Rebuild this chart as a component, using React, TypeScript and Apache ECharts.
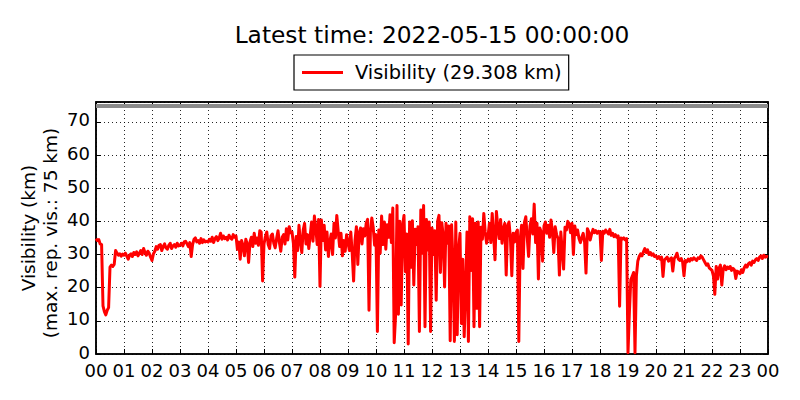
import React, { useEffect, useRef } from "react";
import * as echarts from "echarts";

const titleText = "Latest time: 2022-05-15 00:00:00";
const seriesName = "Visibility";
const latestValue = 29.308;
const maxReportedVis = 75;
const yLabelLine1 = "Visibility (km)";
const yLabelLine2 = "(max. rep. vis.: 75 km)";
const hourLabels = [
  "00", "01", "02", "03", "04", "05", "06", "07", "08", "09", "10", "11",
  "12", "13", "14", "15", "16", "17", "18", "19", "20", "21", "22", "23", "00",
];

// visibility (km), evenly spaced within each hour
const h00 = [34.8, 34.2, 34.5, 33.2, 33.0, 14.5, 12.8, 11.8, 13.2, 14.0, 26.2, 26.8, 26.4, 27.0, 31.2, 30.4, 29.8, 30.2, 29.5, 30.1];
const h01 = [29.8, 30.4, 29.5, 28.6, 29.8, 30.2, 29.4, 30.6, 30.0, 30.8, 29.6, 30.4, 31.2, 30.0, 31.8, 30.6, 29.8, 31.0, 30.4, 29.2];
const h02 = [28.2, 30.2, 31.0, 32.4, 31.6, 32.8, 33.0, 31.2, 32.4, 33.2, 32.0, 31.6, 32.8, 33.4, 31.8, 32.6, 33.0, 32.2, 33.4, 32.6];
const h03 = [32.8, 33.4, 32.6, 33.8, 34.0, 33.2, 32.4, 33.6, 29.4, 33.0, 34.6, 35.0, 33.8, 34.2, 33.4, 34.8, 33.6, 34.4, 33.8, 34.0];
const h04 = [33.8, 34.6, 34.0, 35.2, 33.6, 34.8, 35.4, 34.2, 35.0, 36.4, 34.6, 35.6, 34.8, 35.2, 34.4, 35.8, 35.0, 34.6, 36.0, 35.2];
const h05 = [35.6, 31.6, 33.8, 28.6, 34.2, 32.8, 29.6, 34.6, 33.2, 27.6, 33.8, 35.2, 32.4, 36.4, 33.4, 35.0, 32.8, 37.2, 36.8, 22.0];
const h06 = [33.2, 35.4, 36.8, 33.0, 31.8, 35.6, 36.2, 33.4, 32.0, 34.8, 37.2, 33.6, 31.0, 35.2, 36.0, 33.2, 37.8, 34.4, 38.4, 36.6];
const h07 = [36.8, 33.4, 23.2, 35.4, 31.2, 38.8, 34.0, 30.6, 37.4, 39.4, 33.2, 36.0, 31.8, 35.8, 39.8, 34.0, 41.6, 38.0, 33.0, 40.6];
const h08 = [20.4, 40.4, 34.2, 38.8, 31.4, 36.8, 29.4, 33.8, 36.2, 30.0, 39.4, 35.0, 41.8, 37.0, 32.4, 36.4, 29.6, 34.2, 31.0, 36.0];
const h09 = [33.6, 31.2, 36.8, 30.4, 22.0, 34.2, 38.4, 27.0, 36.6, 38.0, 33.2, 37.8, 35.6, 39.4, 40.6, 13.2, 36.8, 41.0, 38.2, 32.8];
const h10 = [36.0, 6.8, 37.4, 30.4, 41.6, 33.0, 39.8, 31.6, 39.0, 35.2, 42.0, 33.6, 44.0, 3.4, 11.8, 44.8, 12.0, 40.0, 14.8, 38.8];
const h11 = [41.8, 24.8, 36.2, 3.0, 39.8, 26.2, 40.2, 20.8, 37.6, 33.0, 38.4, 6.8, 43.4, 30.4, 44.8, 8.2, 40.6, 31.4, 39.8, 6.8];
const h12 = [38.0, 30.0, 37.2, 16.2, 40.0, 41.8, 24.6, 39.6, 35.8, 20.2, 39.4, 33.4, 38.6, 4.0, 39.0, 27.4, 3.8, 39.8, 5.8, 31.4];
const h13 = [36.4, 9.2, 28.6, 5.2, 19.4, 36.8, 3.8, 41.4, 25.2, 40.8, 8.2, 39.4, 13.8, 39.8, 8.2, 38.2, 34.6, 42.4, 36.8, 33.4];
const h14 = [35.4, 39.4, 33.6, 42.4, 36.0, 28.4, 43.0, 38.2, 34.8, 40.6, 33.4, 37.8, 39.4, 23.8, 38.6, 39.8, 35.2, 23.6, 36.4, 33.8];
const h15 = [36.6, 37.4, 3.8, 34.6, 38.8, 25.8, 39.6, 41.4, 35.2, 29.4, 38.6, 40.8, 36.2, 45.2, 33.6, 39.4, 22.6, 38.0, 36.8, 28.0];
const h16 = [38.6, 39.8, 36.4, 38.8, 35.2, 40.4, 37.0, 30.6, 38.4, 36.0, 34.8, 23.8, 36.8, 31.2, 25.6, 38.2, 37.4, 40.0, 39.2, 36.6];
const h17 = [39.4, 30.0, 38.6, 36.0, 37.4, 34.8, 33.6, 35.2, 36.4, 33.8, 24.4, 37.8, 36.8, 34.4, 36.2, 37.6, 36.6, 37.2, 36.4, 37.0];
const h18 = [36.8, 28.2, 37.0, 36.4, 37.4, 36.8, 36.2, 37.6, 35.8, 36.4, 35.4, 36.0, 35.2, 35.6, 14.4, 35.0, 34.6, 35.0, 34.4, 34.8];
const h19 = [0.4, 12.6, 22.4, 23.4, 24.6, 0.4, 23.6, 28.0, 29.4, 30.2, 29.6, 30.8, 31.8, 30.6, 31.4, 30.0, 30.6, 29.8, 30.2, 29.4];
const h20 = [29.6, 28.8, 29.4, 28.6, 29.2, 23.4, 28.4, 28.8, 29.2, 28.0, 28.6, 29.0, 25.0, 28.8, 29.4, 30.4, 28.6, 28.2, 28.8, 27.8];
const h21 = [23.6, 28.2, 27.8, 28.6, 28.0, 28.8, 28.4, 29.0, 28.6, 28.2, 29.0, 28.8, 29.6, 29.2, 28.4, 27.6, 26.8, 27.2, 26.0, 25.6];
const h22 = [25.2, 23.6, 18.0, 26.4, 22.6, 25.8, 26.8, 20.8, 25.6, 26.6, 25.4, 26.2, 25.8, 26.4, 25.2, 25.8, 25.4, 22.8, 25.0, 24.6];
const h23 = [24.2, 25.4, 24.6, 26.0, 26.8, 26.2, 27.2, 27.6, 26.8, 28.0, 27.6, 28.4, 28.8, 28.2, 29.2, 29.6, 28.8, 29.8, 29.2, 29.4];

const hourly = [h00, h01, h02, h03, h04, h05, h06, h07, h08, h09, h10, h11, h12, h13, h14, h15, h16, h17, h18, h19, h20, h21, h22, h23];

const FONT = "DejaVu Sans";

export default function App() {
  const ref = useRef<HTMLDivElement>(null);

  useEffect(() => {
    if (!ref.current) return;
    const chart = echarts.init(ref.current, null, { renderer: "svg" });

    const data: [number, number][] = [];
    hourly.forEach((vals, h) => {
      vals.forEach((v, i) => data.push([h + i / vals.length, v]));
    });
    data.push([24, latestValue]);

    const legendText = `${seriesName} (${latestValue.toFixed(3)} km)`;

    const xCommon = {
      type: "value" as const,
      min: 0,
      max: 24,
      interval: 1,
    };
    const yCommon = {
      type: "value" as const,
      min: 0,
      max: 76,
      interval: 10,
    };
    const tick = { show: true, inside: true, length: 5, lineStyle: { color: "#000", width: 1 } };
    const axisLine = { show: true, onZero: false, lineStyle: { color: "#000", width: 1.5 } };
    const dotted = { show: true, lineStyle: { color: "#000", width: 1, type: [1, 3] as any, opacity: 0.85 } };

    chart.setOption({
      animation: false,
      backgroundColor: "#fff",
      textStyle: { fontFamily: FONT },
      grid: {
        left: 96,
        right: 32,
        top: 102,
        bottom: 46,
        show: true,
        borderColor: "#000",
        borderWidth: 1.5,
        backgroundColor: "transparent",
      },
      legend: {
        data: [seriesName],
        left: 294,
        top: 55,
        padding: [7, 7, 7, 8],
        borderColor: "#000",
        borderWidth: 1.2,
        borderRadius: 0,
        itemWidth: 41,
        itemHeight: 3,
        icon: "rect",
        formatter: () => legendText,
        textStyle: { fontSize: 19.4, fontFamily: FONT, color: "#000", lineHeight: 21, padding: [0, 0, 0, 7] },
      },
      xAxis: [
        {
          ...xCommon,
          position: "bottom",
          axisLine,
          axisTick: tick,
          splitLine: dotted,
          axisLabel: {
            formatter: (v: number) => hourLabels[Math.round(v)],
            fontSize: 18,
            color: "#000",
            fontFamily: FONT,
            margin: 7,
          },
        },
        {
          ...xCommon,
          position: "top",
          axisLine,
          axisTick: tick,
          splitLine: { show: false },
          axisLabel: { show: false },
        },
      ],
      yAxis: [
        {
          ...yCommon,
          position: "left",
          axisLine,
          axisTick: tick,
          splitLine: dotted,
          axisLabel: {
            fontSize: 18,
            color: "#000",
            fontFamily: FONT,
            margin: 6,
            showMaxLabel: false,
            verticalAlign: "bottom",
            lineHeight: 18,
            padding: [0, 0, -7, 0],
          },
        },
        {
          ...yCommon,
          position: "right",
          axisLine,
          axisTick: tick,
          splitLine: { show: false },
          axisLabel: { show: false },
        },
      ],
      graphic: [
        {
          type: "text",
          x: 432,
          y: 34,
          style: {
            text: titleText,
            fontSize: 23.3,
            fontFamily: FONT,
            fill: "#000",
            textAlign: "center",
            textVerticalAlign: "middle",
          },
        },
        {
          type: "text",
          x: 28,
          y: 228,
          rotation: Math.PI / 2,
          style: {
            text: yLabelLine1,
            fontSize: 18.5,
            fontFamily: FONT,
            fill: "#000",
            textAlign: "center",
            textVerticalAlign: "middle",
          },
        },
        {
          type: "text",
          x: 50,
          y: 233,
          rotation: Math.PI / 2,
          style: {
            text: yLabelLine2,
            fontSize: 18.5,
            fontFamily: FONT,
            fill: "#000",
            textAlign: "center",
            textVerticalAlign: "middle",
          },
        },
      ],
      series: [
        {
          name: seriesName,
          type: "line",
          xAxisIndex: 0,
          yAxisIndex: 0,
          data,
          showSymbol: false,
          symbol: "none",
          lineStyle: { color: "#ff0000", width: 3, join: "round" },
          itemStyle: { color: "#ff0000" },
          markLine: {
            silent: true,
            symbol: "none",
            label: { show: false },
            lineStyle: { color: "#8c8c8c", width: 4, type: "solid" },
            data: [{ yAxis: maxReportedVis }],
          },
        },
      ],
    });

    return () => chart.dispose();
  }, []);

  return (
    <div
      ref={ref}
      style={{ position: "fixed", left: 0, top: 0, width: 800, height: 400, background: "#fff" }}
    />
  );
}
